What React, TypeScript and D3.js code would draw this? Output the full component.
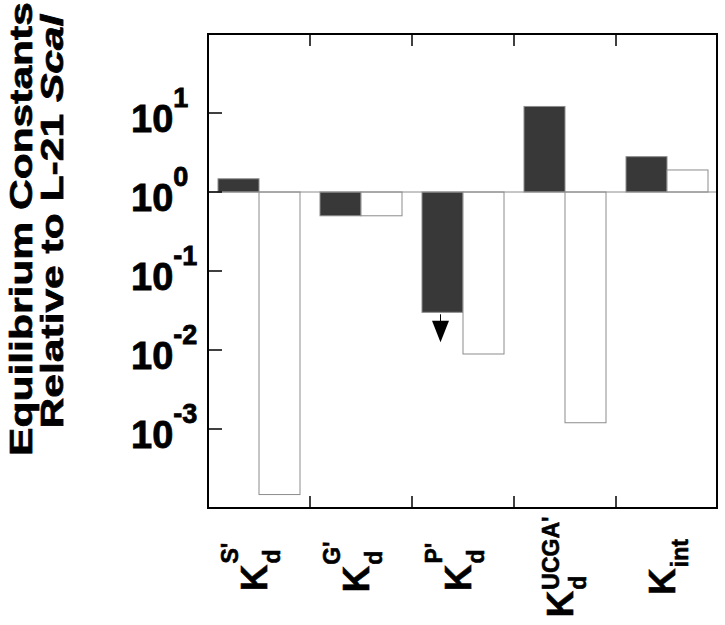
import { useEffect, useRef } from 'react'
import * as d3 from 'd3'

// categories along the x axis (K with superscript / subscript)
const categories = ['S', 'G', 'P', 'UCGA', 'int']
const labelSup = ["S'", "G'", "P'", "UCGA'", '']
const labelSub = ['d', 'd', 'd', 'd', 'int']

// equilibrium constants relative to L-21 ScaI
const ratioFilled = [1.47, 0.5, 0.03, 12.1, 2.8]
const ratioOpen = [1.48e-4, 0.5, 0.0089, 0.0012, 1.9]
const upperLimit = [false, false, true, false, false]

const yTicks = [1e1, 1e0, 1e-1, 1e-2, 1e-3]
const yTickExp = ['1', '0', '-1', '-2', '-3']

const FONT = "'Liberation Sans', Arial, Helvetica, sans-serif"

export default function App() {
  const svgRef = useRef<SVGSVGElement>(null)

  useEffect(() => {
    if (!svgRef.current) return
    const svg = d3.select(svgRef.current)
    svg.selectAll('*').remove()

    const left = 208, right = 718, top = 34, bottom = 508

    const x = d3.scaleBand<string>().domain(categories).range([left, right])
    const sub = d3.scaleBand<string>().domain(['filled', 'open']).range([10, 92])
    const y = d3.scaleLog().domain([1e-4, 1e2]).range([bottom, top])
    const y0 = y(1)

    const rows = categories.map((c, i) => ({ c, i, filled: ratioFilled[i], open: ratioOpen[i] }))

    // bars
    const drawBars = (key: 'filled' | 'open', fill: string) => {
      svg.append('g')
        .selectAll('rect')
        .data(rows)
        .join('rect')
        .attr('x', d => x(d.c)! + sub(key)!)
        .attr('width', sub.bandwidth())
        .attr('y', d => Math.min(y(d[key]), y0))
        .attr('height', d => Math.abs(y(d[key]) - y0))
        .attr('fill', fill)
        .attr('stroke', '#8c8c8c')
        .attr('stroke-width', 1)
    }
    drawBars('filled', '#383838')
    drawBars('open', '#fff')

    // baseline at 1
    svg.append('line')
      .attr('x1', left).attr('x2', right)
      .attr('y1', y0).attr('y2', y0)
      .attr('stroke', '#8c8c8c').attr('stroke-width', 1)

    // upper-limit arrows
    rows.filter(d => upperLimit[d.i]).forEach(d => {
      const cx = x(d.c)! + sub('filled')! + sub.bandwidth() / 2 - 2
      const yb = y(d.filled)
      svg.append('line')
        .attr('x1', cx).attr('x2', cx)
        .attr('y1', yb + 2).attr('y2', yb + 9)
        .attr('stroke', '#000').attr('stroke-width', 1)
      svg.append('path')
        .attr('d', `M${cx - 8.5},${yb + 8.5} L${cx + 8.5},${yb + 8.5} L${cx},${yb + 30} Z`)
        .attr('fill', '#000')
    })

    // frame
    svg.append('rect')
      .attr('x', left).attr('y', top)
      .attr('width', right - left - 1).attr('height', bottom - top)
      .attr('fill', 'none').attr('stroke', '#000').attr('stroke-width', 2)

    // y ticks (inside) and labels
    svg.append('g')
      .selectAll('line')
      .data(yTicks)
      .join('line')
      .attr('x1', left).attr('x2', left + 14)
      .attr('y1', d => y(d)).attr('y2', d => y(d))
      .attr('stroke', '#000').attr('stroke-width', 1.5)

    const yl = svg.append('g')
      .selectAll('text')
      .data(yTicks)
      .join('text')
      .attr('x', 131)
      .attr('y', d => y(d) + 19)
      .attr('font-family', FONT)
      .attr('font-weight', 'bold')
      .attr('font-size', 38)
      .attr('fill', '#000')
      .attr('stroke', '#000')
      .attr('stroke-width', 0.8)
    yl.append('tspan').text('10')
    yl.append('tspan')
      .attr('dy', -25)
      .attr('font-size', 27)
      .text((_, i) => yTickExp[i])

    // x ticks at category boundaries, top and bottom
    const bounds = categories.slice(1).map(c => x(c)!)
    svg.append('g')
      .selectAll('line')
      .data(bounds)
      .join('line')
      .attr('x1', d => d).attr('x2', d => d)
      .attr('y1', bottom).attr('y2', bottom - 12)
      .attr('stroke', '#000').attr('stroke-width', 1.5)
    svg.append('g')
      .selectAll('line')
      .data(bounds)
      .join('line')
      .attr('x1', d => d).attr('x2', d => d)
      .attr('y1', top).attr('y2', top + 12)
      .attr('stroke', '#000').attr('stroke-width', 1.5)

    // x labels, rotated
    const supRaise = [29, 29, 29, 14, 0]
    const textStyle = (t: d3.Selection<SVGTextElement, unknown, null, undefined>, size: number) =>
      t.attr('font-family', FONT).attr('font-weight', 'bold')
        .attr('font-size', size).attr('fill', '#000')
        .attr('stroke', '#000').attr('stroke-width', 0.6)
    categories.forEach((c, i) => {
      const g = svg.append('g')
        .attr('transform', `translate(${x(c)! + x.bandwidth() / 2 + 8},567) rotate(-90)`)
      const inner = g.append('g')
      const k = textStyle(inner.append('text').attr('x', 0).attr('y', 0), 37).text('K')
      const kw = (k.node() as SVGTextElement).getComputedTextLength()
      let sw = 0
      if (labelSup[i]) {
        const s = textStyle(inner.append('text').attr('x', kw + 1).attr('y', -supRaise[i]), 23)
          .text(labelSup[i])
        sw = (s.node() as SVGTextElement).getComputedTextLength()
      }
      const b = textStyle(inner.append('text').attr('x', kw + 1).attr('y', 13), 23)
        .text(labelSub[i])
      const bw = (b.node() as SVGTextElement).getComputedTextLength()
      const total = kw + 1 + Math.max(sw, bw)
      inner.attr('transform', `translate(${-total / 2},0)`)
    })

    // y axis title, two lines
    svg.append('text')
      .attr('transform', 'translate(32,229) rotate(-90) scale(1.33,1)')
      .attr('text-anchor', 'middle')
      .attr('font-family', FONT).attr('font-weight', 'bold')
      .attr('font-size', 32).attr('fill', '#000')
      .attr('stroke', '#000').attr('stroke-width', 0.7)
      .text('Equilibrium Constants')
    const t2 = svg.append('text')
      .attr('transform', 'translate(63,221.5) rotate(-90) scale(1.33,1)')
      .attr('text-anchor', 'middle')
      .attr('font-family', FONT).attr('font-weight', 'bold')
      .attr('font-size', 32).attr('fill', '#000')
      .attr('stroke', '#000').attr('stroke-width', 0.7)
    t2.append('tspan').text('Relative to L-21 ')
    t2.append('tspan').attr('font-style', 'italic').text('Scal')
  }, [])

  return (
    <svg
      ref={svgRef}
      width={725}
      height={625}
      style={{ position: 'absolute', left: 0, top: 0, background: '#fff' }}
    />
  )
}
